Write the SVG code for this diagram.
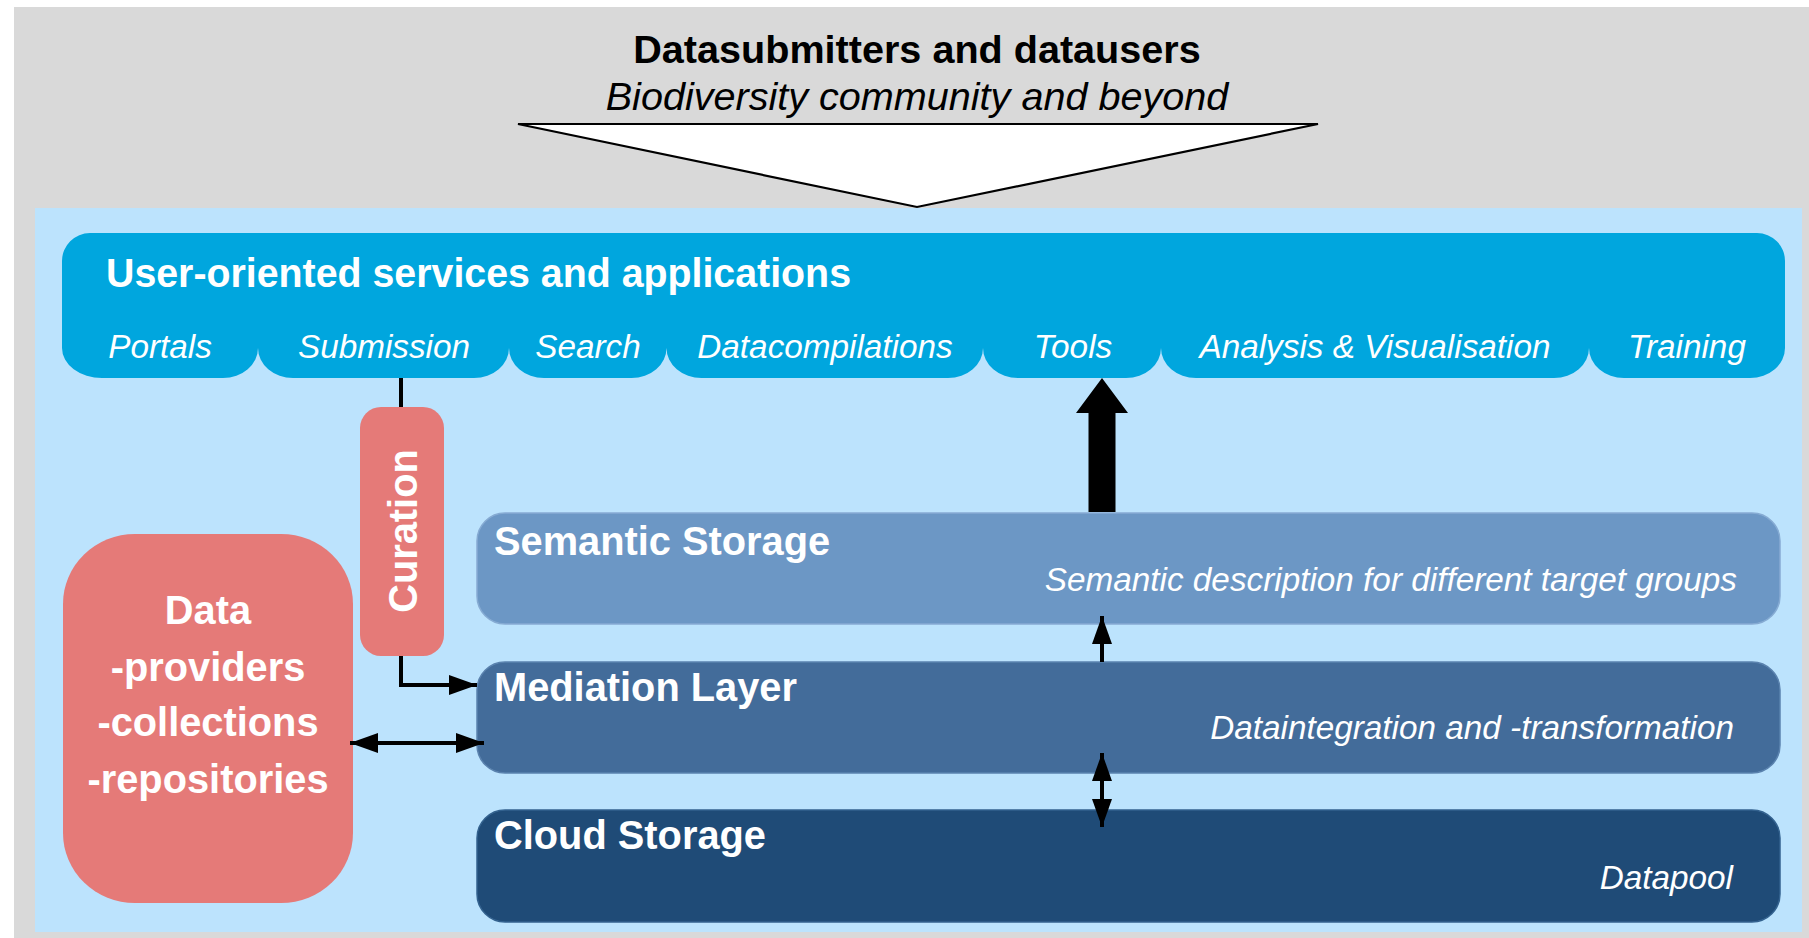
<svg xmlns="http://www.w3.org/2000/svg" width="1809" height="938" viewBox="0 0 1809 938">
<defs>
<style>
.bold{font-family:"Liberation Sans",Arial,sans-serif;font-weight:bold;font-size:39.8px;fill:#fff}
.ital{font-family:"Liberation Sans",Arial,sans-serif;font-style:italic;font-size:33.3px;fill:#fff}
.tab{text-anchor:middle}
.conn{stroke:#000;stroke-width:4;fill:none}
</style>
<marker id="ah" viewBox="0 0 28 20" refX="28" refY="10" markerWidth="28" markerHeight="20" markerUnits="userSpaceOnUse" orient="auto-start-reverse">
<path d="M0,0 L28,10 L0,20 Z" fill="#000"/>
</marker>
</defs>
<rect x="0" y="0" width="1809" height="938" fill="#fff"/>
<rect x="14" y="7" width="1795" height="931" fill="#D9D9D9"/>
<rect x="35" y="208" width="1767" height="724" fill="#BCE3FD"/>

<g id="title">
<text x="917" y="63" text-anchor="middle" style="font-family:'Liberation Sans',Arial,sans-serif;font-weight:bold;font-size:39.6px;fill:#000">Datasubmitters and datausers</text>
<text x="917" y="110" text-anchor="middle" style="font-family:'Liberation Sans',Arial,sans-serif;font-style:italic;font-size:39.6px;fill:#000">Biodiversity community and beyond</text>
<polygon points="518,124 1318,124 917,207" fill="#fff" stroke="#000" stroke-width="2.2" stroke-linejoin="miter"/>
</g>

<g id="services">
<path d="M90,233 H1757 A28,28 0 0 1 1785,261 V348 A35,30 0 0 1 1750,378 H1624 A35,30 0 0 1 1589,348 A35,30 0 0 1 1554,378 H1196 A35,30 0 0 1 1161,348 A35,30 0 0 1 1126,378 H1018 A35,30 0 0 1 983,348 A35,30 0 0 1 948,378 H701.5 A35,30 0 0 1 666.5,348 A35,30 0 0 1 631.5,378 H544 A35,30 0 0 1 509,348 A35,30 0 0 1 474,378 H293 A35,30 0 0 1 258,348 A35,30 0 0 1 223,378 H102 A40,30 0 0 1 62,348 V261 A28,28 0 0 1 90,233 Z" fill="#00A6DE"/>
<text class="bold" x="106" y="287" textLength="745" lengthAdjust="spacingAndGlyphs">User-oriented services and applications</text>
<text class="ital tab" x="160" y="358">Portals</text>
<text class="ital tab" x="384" y="358">Submission</text>
<text class="ital tab" x="588" y="358">Search</text>
<text class="ital tab" x="825" y="358">Datacompilations</text>
<text class="ital tab" x="1073" y="358">Tools</text>
<text class="ital tab" x="1375" y="358">Analysis &amp; Visualisation</text>
<text class="ital tab" x="1687" y="358">Training</text>
</g>

<g id="semantic">
<rect x="477" y="513" width="1303" height="111" rx="28" ry="28" fill="#6C97C5" stroke="#86ABD3" stroke-width="1.5"/>
<text class="bold" x="494" y="555">Semantic Storage</text>
<text class="ital" x="1737" y="591" text-anchor="end">Semantic description for different target groups</text>
</g>

<g id="mediation">
<rect x="477" y="662" width="1303" height="111" rx="28" ry="28" fill="#436C9A" stroke="#5A82AE" stroke-width="1.5"/>
<text class="bold" x="494" y="701">Mediation Layer</text>
<text class="ital" x="1734" y="739" text-anchor="end">Dataintegration and -transformation</text>
</g>

<g id="cloud">
<rect x="477" y="810" width="1303" height="112" rx="28" ry="28" fill="#1F4B77" stroke="#33628F" stroke-width="1.5"/>
<text class="bold" x="494" y="849">Cloud Storage</text>
<text class="ital" x="1733" y="889" text-anchor="end">Datapool</text>
</g>

<g id="data">
<rect x="63" y="534" width="290" height="369" rx="72" ry="70" fill="#E57A78"/>
<text class="bold" x="208" y="624" text-anchor="middle">Data</text>
<text class="bold" x="208" y="681" text-anchor="middle">-providers</text>
<text class="bold" x="208" y="736" text-anchor="middle">-collections</text>
<text class="bold" x="208" y="793" text-anchor="middle">-repositories</text>
</g>

<g id="curation">
<rect x="360" y="407" width="84" height="249" rx="21" ry="21" fill="#E57A78"/>
<text class="bold" x="417" y="531" text-anchor="middle" transform="rotate(-90 417 531)">Curation</text>
</g>

<g id="connectors">
<line class="conn" x1="401" y1="378" x2="401" y2="407"/>
<polyline class="conn" points="401,656 401,685 477,685" marker-end="url(#ah)"/>
<line class="conn" x1="350" y1="743" x2="484" y2="743" marker-start="url(#ah)" marker-end="url(#ah)"/>
<polygon points="1088.5,512 1115.5,512 1115.5,413 1128,413 1102,378 1076,413 1088.5,413" fill="#000"/>
<line class="conn" x1="1102" y1="662" x2="1102" y2="616" marker-end="url(#ah)"/>
<line class="conn" x1="1102" y1="753" x2="1102" y2="827" marker-start="url(#ah)" marker-end="url(#ah)"/>
</g>
</svg>
